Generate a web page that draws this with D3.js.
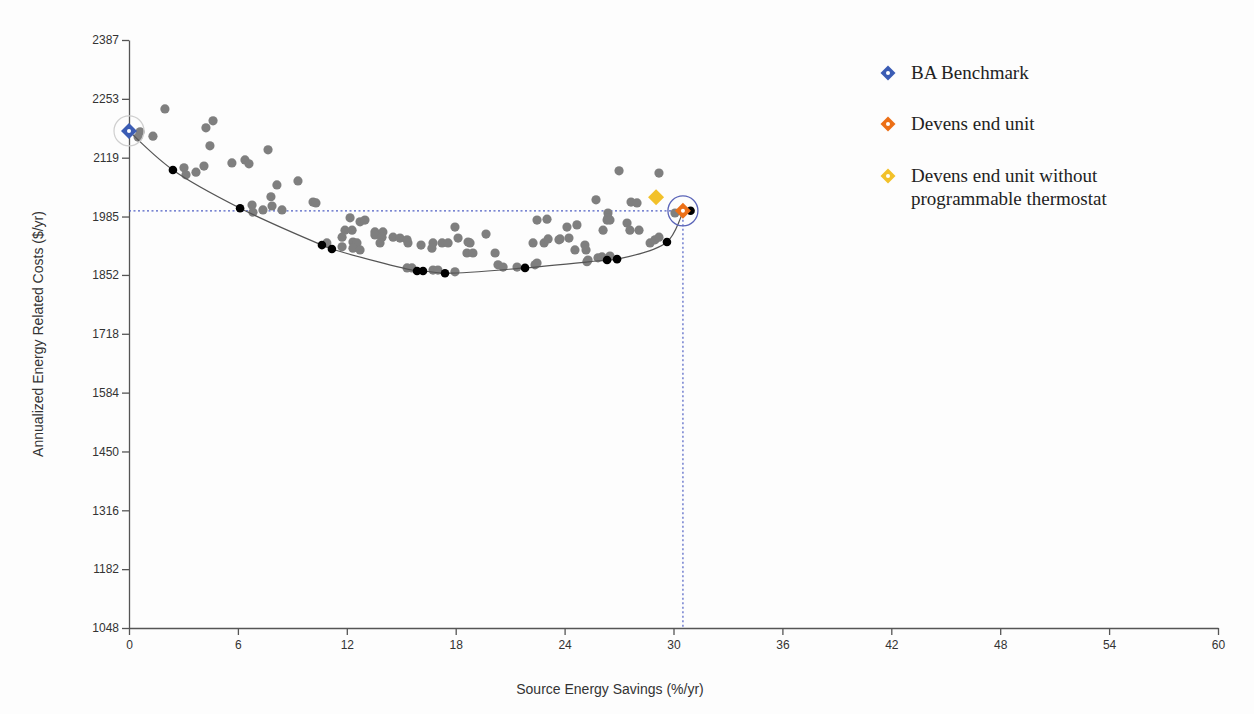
<!DOCTYPE html>
<html>
<head>
<meta charset="utf-8">
<script src="https://cdn.jsdelivr.net/npm/d3@7"></script>
<style>
  html, body { margin: 0; padding: 0; background: #fdfdfd; }
  svg { display: block; }
</style>
</head>
<body>
<svg id="chart" width="1254" height="714"></svg>
<script>
// ---------- DATA ----------
const xTicks = [0, 6, 12, 18, 24, 30, 36, 42, 48, 54, 60];
const yTicks = [1048, 1182, 1316, 1450, 1584, 1718, 1852, 1985, 2119, 2253, 2387];

// gray: all simulated designs [savings %, cost $]
const graySavings = [0.61,0.50,1.32,1.98,4.24,4.63,4.46,7.66,5.67,6.39,6.61,9.31,8.15,4.13,3.69,3.03,3.14,7.82,7.88,6.78,7.38,8.43,6.83,10.14,10.30,12.18,12.73,13.00,11.90,12.29,11.74,12.34,12.56,11.74,12.34,12.73,13.55,13.99,13.55,13.94,13.83,14.55,14.93,15.32,15.37,16.09,16.75,16.69,17.25,17.58,17.96,18.13,18.68,18.62,18.95,15.32,15.59,16.75,17.96,17.02,10.90,
  25.73,22.48,23.03,19.67,24.13,24.68,22.26,22.87,23.09,23.69,24.24,25.12,25.18,24.57,18.79,20.17,20.33,20.61,21.38,22.37,22.48,25.23,25.84,26.06,26.34,26.12,27.00,29.20,27.66,27.99,26.39,26.39,26.50,27.44,27.60,28.10,23.75,28.71,28.98,29.20,30.08,25.29,26.50];
const grayCosts = [2178,2166,2168,2230,2187,2203,2146,2137,2107,2114,2105,2066,2057,2100,2086,2096,2080,2030,2009,2011,2000,2000,1995,2018,2016,1982,1973,1977,1954,1954,1938,1927,1925,1916,1913,1909,1950,1950,1943,1938,1925,1938,1936,1932,1925,1920,1925,1913,1925,1925,1961,1936,1927,1902,1902,1868,1868,1863,1859,1863,1925,
  2023,1977,1979,1945,1961,1966,1925,1925,1934,1932,1936,1920,1909,1909,1925,1902,1875,1870,1870,1875,1879,1882,1891,1893,1977,1954,2089,2084,2018,2016,1993,1982,1977,1970,1954,1954,1934,1925,1932,1938,1993,1886,1895];

// black: least-cost curve points
const optSavings = [2.42, 6.12, 10.63, 11.18, 15.87, 16.20, 17.41, 21.82, 26.34, 26.89, 29.64, 30.94];
const optCosts   = [2091, 2004, 1920, 1911, 1861, 1861, 1856, 1868, 1886, 1888, 1927, 1998];

// highlighted designs
const specialNames   = ["BA Benchmark", "Devens end unit", "Devens end unit without programmable thermostat"];
const specialSavings = [0, 30.52, 29.04];
const specialCosts   = [2180, 1998, 2029];
const specialColors  = ["#3b5cb4", "#ec6f16", "#f2c12a"];

// ---------- LAYOUT ----------
const svg = d3.select("#chart");
const m = { left: 129, right: 1218, top: 40, bottom: 628 };
const x = d3.scaleLinear().domain([0, 60]).range([m.left, m.right]);
const y = d3.scaleLinear().domain([1048, 2387]).range([m.bottom, m.top]);

svg.append("rect").attr("width", 1254).attr("height", 714).attr("fill", "#fdfdfd");

// axes
const axisColor = "#555";
const gx = svg.append("g").attr("transform", `translate(0,${m.bottom})`)
  .call(d3.axisBottom(x).tickValues(xTicks).tickSize(7).tickPadding(5).tickSizeOuter(0));
const gy = svg.append("g").attr("transform", `translate(${m.left},0)`)
  .call(d3.axisLeft(y).tickValues(yTicks).tickSize(7).tickPadding(3).tickSizeOuter(0).tickFormat(d3.format("d")));
[gx, gy].forEach(g => {
  g.select(".domain").attr("stroke", axisColor).attr("stroke-width", 1.3);
  g.selectAll(".tick line").attr("stroke", axisColor).attr("stroke-width", 1.3);
  g.selectAll(".tick text").attr("fill", "#333").attr("font-family", "Liberation Sans, Arial, sans-serif").attr("font-size", 12);
});

// axis titles
svg.append("text").attr("x", 610).attr("y", 694).attr("text-anchor", "middle")
  .attr("font-family", "Liberation Sans, Arial, sans-serif").attr("font-size", 14).attr("fill", "#333")
  .text("Source Energy Savings (%/yr)");
svg.append("text").attr("transform", `translate(43,${(m.top + m.bottom) / 2}) rotate(-90)`).attr("text-anchor", "middle")
  .attr("font-family", "Liberation Sans, Arial, sans-serif").attr("font-size", 14).attr("fill", "#333")
  .text("Annualized Energy Related Costs ($/yr)");

// reference dotted lines for Devens end unit
const dv = 1;
svg.append("line").attr("x1", x(0)).attr("x2", x(specialSavings[dv]))
  .attr("y1", y(specialCosts[dv])).attr("y2", y(specialCosts[dv]))
  .attr("stroke", "#4f5fc4").attr("stroke-width", 1.2).attr("stroke-dasharray", "2,2.5");
svg.append("line").attr("x1", x(specialSavings[dv])).attr("x2", x(specialSavings[dv]))
  .attr("y1", y(specialCosts[dv])).attr("y2", y(1048))
  .attr("stroke", "#4f5fc4").attr("stroke-width", 1.2).attr("stroke-dasharray", "2,2.5");

// gray points
const grayData = graySavings.map((s, i) => ({ s, c: grayCosts[i] }));
svg.append("g").selectAll("circle").data(grayData).join("circle")
  .attr("cx", d => x(d.s)).attr("cy", d => y(d.c)).attr("r", 4.6).attr("fill", "#7f7f7f");

// least-cost curve
const curveData = [{ s: specialSavings[0], c: specialCosts[0] }]
  .concat(optSavings.slice(0, -1).map((s, i) => ({ s, c: optCosts[i] })))
  .concat([{ s: specialSavings[1], c: specialCosts[1] }]);
svg.append("path").datum(curveData)
  .attr("d", d3.line().x(d => x(d.s)).y(d => y(d.c)).curve(d3.curveCatmullRom.alpha(0.5)))
  .attr("fill", "none").attr("stroke", "#555").attr("stroke-width", 1.2);

const optData = optSavings.map((s, i) => ({ s, c: optCosts[i] }));
svg.append("g").selectAll("circle").data(optData).join("circle")
  .attr("cx", d => x(d.s)).attr("cy", d => y(d.c)).attr("r", 4.3).attr("fill", "#000");

// highlight rings
svg.append("circle").attr("cx", x(specialSavings[0])).attr("cy", y(specialCosts[0])).attr("r", 15)
  .attr("fill", "none").attr("stroke", "#cfcfcf").attr("stroke-width", 1.2);
svg.append("circle").attr("cx", x(specialSavings[1])).attr("cy", y(specialCosts[1])).attr("r", 15)
  .attr("fill", "none").attr("stroke", "#5a64b8").attr("stroke-width", 1.3);

// diamonds
function diamond(g, cx, cy, color, size, dot) {
  g.append("path")
    .attr("d", `M${cx},${cy - size}L${cx + size},${cy}L${cx},${cy + size}L${cx - size},${cy}Z`)
    .attr("fill", color);
  if (dot) g.append("circle").attr("cx", cx).attr("cy", cy).attr("r", 2).attr("fill", "#fff");
}
const dg = svg.append("g");
[2, 0, 1].forEach(i => diamond(dg, x(specialSavings[i]), y(specialCosts[i]), specialColors[i], 8, i !== 2));

// legend
const lg = svg.append("g");
const legendY = [73, 124, 176];
specialNames.forEach((name, i) => {
  diamond(lg, 888, legendY[i], specialColors[i], 7.5, true);
  const t = lg.append("text").attr("x", 911).attr("y", legendY[i] + 6)
    .attr("font-family", "Liberation Serif, Times New Roman, serif").attr("font-size", 19).attr("fill", "#222");
  if (i === 2) {
    t.append("tspan").attr("x", 911).text("Devens end unit without");
    t.append("tspan").attr("x", 911).attr("dy", 23).text("programmable thermostat");
  } else {
    t.text(name);
  }
});
</script>
</body>
</html>
